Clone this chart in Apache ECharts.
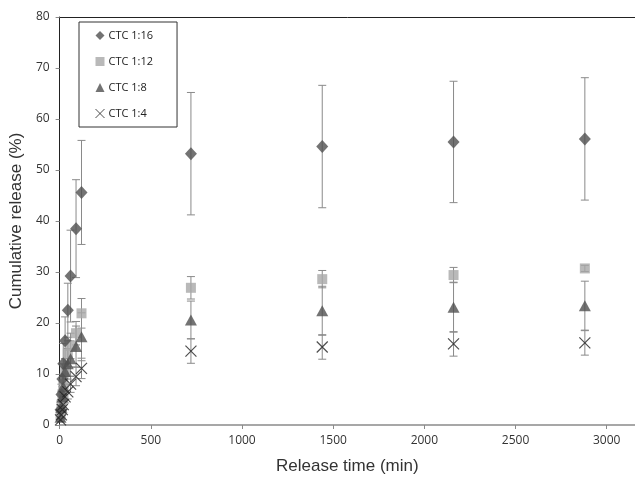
<!DOCTYPE html>
<html>
<head>
<meta charset="utf-8">
<script src="https://cdn.jsdelivr.net/npm/echarts@6/dist/echarts.min.js"></script>
<style>html,body{margin:0;padding:0;background:#fff;}#c{width:635px;height:480px;}</style>
</head>
<body>
<div id="c"></div>
<script>
const times = [5, 10, 15, 20, 30, 45, 60, 90, 120, 720, 1440, 2160, 2880];
const ctc16 = [3, 6, 9, 12, 16.5, 22.5, 29.2, 38.5, 45.6, 53.2, 54.6, 55.5, 56.1];
const ctc16Err = [1, 2, 3, 4, 4.7, 5.3, 9, 9.6, 10.2, 12, 12, 11.9, 12];
const ctc12 = [2, 4, 6, 8, 10.5, 14, 15.5, 18, 21.9, 26.9, 28.6, 29.4, 30.7];
const ctc12Err = [0.5, 1, 1.5, 2, 2.5, 2.5, 2.5, 2.3, 2.9, 2.2, 1.7, 1.5, 0.6];
const ctc8 = [1.5, 3.5, 5.5, 7.5, 10.5, 12, 13, 15.4, 17.3, 20.6, 22.4, 23.1, 23.4];
const ctc8Err = [0.5, 1, 1.5, 2, 2.5, 3, 3.5, 4, 4.7, 3.7, 4.8, 4.9, 4.8];
const ctc4 = [1, 2, 3, 4, 5.5, 6.5, 8, 9.5, 11.1, 14.5, 15.3, 15.9, 16.1];
const ctc4Err = [0.3, 0.5, 0.8, 1, 1.2, 1.4, 1.6, 1.8, 2, 2.4, 2.4, 2.4, 2.4];
const xTicks = [0, 500, 1000, 1500, 2000, 2500, 3000];
const yTicks = [0, 10, 20, 30, 40, 50, 60, 70, 80];
const names = ['CTC 1:16', 'CTC 1:12', 'CTC 1:8', 'CTC 1:4'];

const crossPath = 'path://M0,0L10,10M10,0L0,10';

function pts(vals) { return times.map((t, i) => [t, vals[i]]); }
function errData(vals, errs) { return times.map((t, i) => [t, vals[i] - errs[i], vals[i] + errs[i]]); }

function errSeries(vals, errs, z) {
  return {
    type: 'custom',
    silent: true,
    z: z,
    data: errData(vals, errs),
    renderItem: function (params, api) {
      const x = api.value(0);
      const lo = api.coord([x, api.value(1)]);
      const hi = api.coord([x, api.value(2)]);
      const w = 4;
      const style = { stroke: '#8a8a8a', lineWidth: 1 };
      return {
        type: 'group',
        children: [
          { type: 'line', shape: { x1: lo[0], y1: lo[1], x2: hi[0], y2: hi[1] }, style: style },
          { type: 'line', shape: { x1: lo[0] - w, y1: lo[1], x2: lo[0] + w, y2: lo[1] }, style: style },
          { type: 'line', shape: { x1: hi[0] - w, y1: hi[1], x2: hi[0] + w, y2: hi[1] }, style: style }
        ]
      };
    }
  };
}

const chart = echarts.init(document.getElementById('c'), null, { renderer: 'canvas' });
chart.setOption({
  animation: false,
  backgroundColor: '#fff',
  textStyle: { fontFamily: 'Open Sans' },
  grid: { left: 59, top: 17, right: 0, bottom: 55, show: false },
  legend: {
    data: [
      { name: names[0], icon: 'diamond', itemStyle: { color: '#505050' } },
      { name: names[1], icon: 'rect', itemStyle: { color: '#a8a8a8' } },
      { name: names[2], icon: 'triangle', itemStyle: { color: '#505050' } },
      { name: names[3], icon: crossPath, itemStyle: { color: 'transparent', borderColor: '#222', borderWidth: 1 } }
    ],
    orient: 'vertical',
    left: 79, top: 22,
    padding: [8, 24, 8, 16],
    itemGap: 15,
    itemWidth: 9, itemHeight: 9,
    backgroundColor: '#fff',
    borderColor: '#333', borderWidth: 1,
    textStyle: { fontSize: 11, color: '#222', fontFamily: 'Open Sans', padding: [0, 0, 0, -1] }
  },
  xAxis: [{
    type: 'value', min: 0, max: 3155, interval: 500,
    name: 'Release time (min)', nameLocation: 'middle', nameGap: 33,
    nameTextStyle: { fontSize: 17, color: '#333', fontFamily: 'Liberation Sans' },
    axisLine: { show: true, lineStyle: { color: '#8a8a8a', width: 1.5 } },
    axisTick: { show: true, length: 4, lineStyle: { color: '#8a8a8a' } },
    axisLabel: { margin: 10, fontSize: 12, color: '#333', showMaxLabel: false,
      formatter: v => xTicks.indexOf(v) >= 0 ? String(v) : '' },
    splitLine: { show: false }
  }, {
    type: 'value', position: 'top', min: 0, max: 3155,
    axisLine: { show: true, onZero: false, lineStyle: { color: '#222', width: 1 } },
    axisTick: { show: false }, axisLabel: { show: false }, splitLine: { show: false }
  }],
  yAxis: {
    type: 'value', min: 0, max: 80, interval: 10,
    name: 'Cumulative release (%)', nameLocation: 'middle', nameGap: 29, nameRotate: 90,
    nameTextStyle: { fontSize: 17, color: '#333', fontFamily: 'Liberation Sans' },
    axisLine: { show: true, lineStyle: { color: '#222', width: 1 } },
    axisTick: { show: true, length: 4, lineStyle: { color: '#8a8a8a' } },
    axisLabel: { margin: 10, fontSize: 12, color: '#333',
      formatter: v => yTicks.indexOf(v) >= 0 ? String(v) : '' },
    splitLine: { show: false }
  },
  series: [
    errSeries(ctc16, ctc16Err, 1),
    errSeries(ctc12, ctc12Err, 1),
    errSeries(ctc8, ctc8Err, 1),
    errSeries(ctc4, ctc4Err, 1),
    { name: names[0], type: 'scatter', z: 5, symbol: 'diamond', symbolSize: [12, 13], data: pts(ctc16), itemStyle: { color: '#505050' } },
    { name: names[1], type: 'scatter', z: 4, symbol: 'rect', symbolSize: 10, data: pts(ctc12), itemStyle: { color: '#a8a8a8' } },
    { name: names[2], type: 'scatter', z: 5, symbol: 'triangle', symbolSize: [12, 11], data: pts(ctc8), itemStyle: { color: '#505050' } },
    { name: names[3], type: 'scatter', z: 6, symbol: crossPath, symbolSize: 11, data: pts(ctc4), itemStyle: { color: 'transparent', borderColor: '#222', borderWidth: 1.2 } }
  ]
});
</script>
</body>
</html>
